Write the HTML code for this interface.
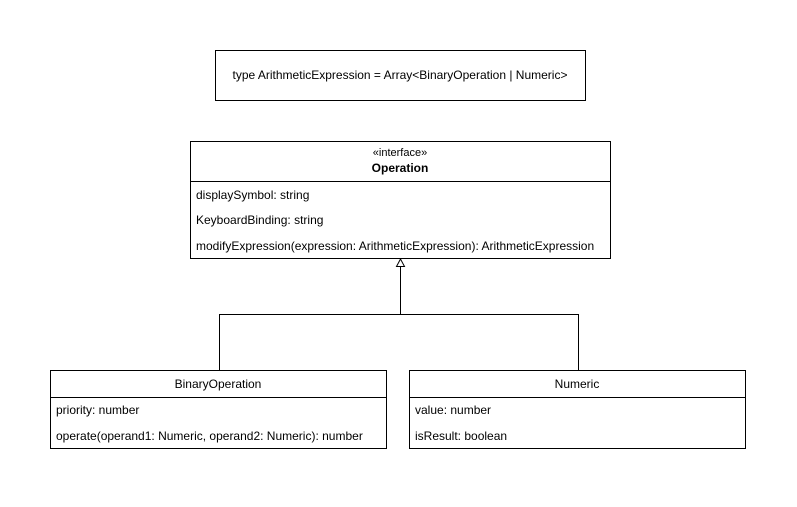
<!DOCTYPE html>
<html><head><style>html,body{margin:0;padding:0;background:#fff;}svg text{font-family:"Liberation Sans",Arial,sans-serif;font-size:12px;fill:#000;}</style></head>
<body>
<svg width="797" height="502" xmlns="http://www.w3.org/2000/svg">
<g fill="none" stroke="#000" stroke-width="1">
<rect x="215.5" y="50.5" width="370" height="50"/>
<rect x="190.5" y="141.5" width="420" height="117"/>
<line x1="190" y1="181.5" x2="611" y2="181.5"/>
<rect x="50.5" y="370.5" width="336" height="78"/>
<line x1="50" y1="397.5" x2="387" y2="397.5"/>
<rect x="409.5" y="370.5" width="336" height="78"/>
<line x1="409" y1="397.5" x2="746" y2="397.5"/>
<polyline points="219.5,370 219.5,314.5 578.5,314.5 578.5,370"/>
<line x1="400.5" y1="314" x2="400.5" y2="266"/>
<polygon points="400.5,259 396.5,266.5 404.5,266.5" fill="#fff"/>
</g>
<text x="400" y="79" text-anchor="middle">type ArithmeticExpression = Array&lt;BinaryOperation | Numeric&gt;</text>
<text x="400" y="156" text-anchor="middle" style="font-size:11px">«interface»</text>
<text x="400" y="172" text-anchor="middle" font-weight="bold">Operation</text>
<text x="196" y="199">displaySymbol: string</text>
<text x="196" y="224">KeyboardBinding: string</text>
<text x="196" y="250">modifyExpression(expression: ArithmeticExpression): ArithmeticExpression</text>
<text x="218" y="388" text-anchor="middle">BinaryOperation</text>
<text x="56" y="414">priority: number</text>
<text x="56" y="440">operate(operand1: Numeric, operand2: Numeric): number</text>
<text x="577" y="388" text-anchor="middle">Numeric</text>
<text x="415" y="414">value: number</text>
<text x="415" y="440">isResult: boolean</text>
</svg>
</body></html>
